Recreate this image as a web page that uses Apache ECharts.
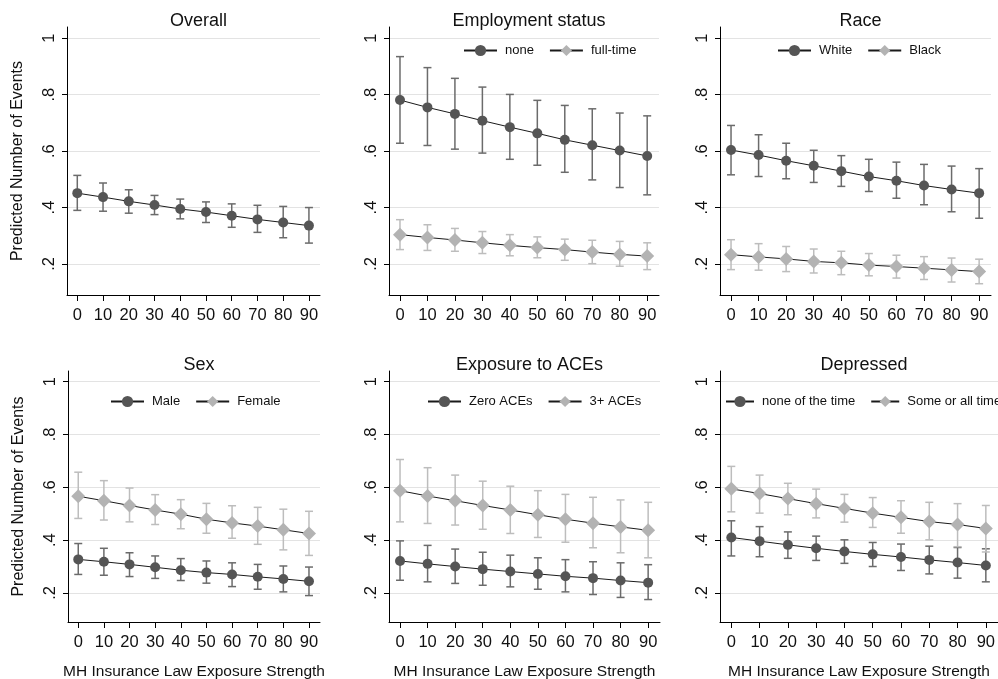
<!DOCTYPE html>
<html lang="en">
<head>
  <meta charset="UTF-8">
  <script type="text/javascript" src="https://cdn.jsdelivr.net/npm/echarts@6.0.0/dist/echarts.min.js"></script>
  <title>Predicted Number of Events</title>
  <style type="text/css">
    * { margin: 0; padding: 0; }
    html, body { width: 100%; height: 100%; background-color: #fff; }
    #chart { width: 998px; height: 679px; }
  </style>
</head>
<body>
<div id="chart"></div>
<script type="text/javascript">
  // x values (exposure strength) and y tick values
  var xValues = [0, 10, 20, 30, 40, 50, 60, 70, 80, 90];
  var yTicks = [0.2, 0.4, 0.6, 0.8, 1];

  // Overall
  var overallEst = [0.451, 0.437, 0.422, 0.409, 0.395, 0.384, 0.371, 0.358, 0.347, 0.336];
  var overallLo  = [0.390, 0.387, 0.380, 0.375, 0.360, 0.347, 0.330, 0.312, 0.293, 0.274];
  var overallHi  = [0.514, 0.487, 0.463, 0.443, 0.430, 0.420, 0.413, 0.408, 0.404, 0.400];

  // Employment status
  var noneEst = [0.781, 0.755, 0.732, 0.708, 0.685, 0.663, 0.640, 0.621, 0.602, 0.583];
  var noneLo  = [0.628, 0.620, 0.607, 0.593, 0.571, 0.550, 0.525, 0.498, 0.471, 0.445];
  var noneHi  = [0.935, 0.896, 0.858, 0.827, 0.801, 0.780, 0.762, 0.750, 0.735, 0.725];
  var fullEst = [0.304, 0.294, 0.285, 0.275, 0.266, 0.258, 0.251, 0.242, 0.234, 0.228];
  var fullLo  = [0.251, 0.248, 0.245, 0.237, 0.229, 0.222, 0.213, 0.201, 0.192, 0.180];
  var fullHi  = [0.357, 0.339, 0.326, 0.315, 0.304, 0.296, 0.288, 0.284, 0.280, 0.275];

  // Race
  var whiteEst = [0.604, 0.586, 0.566, 0.548, 0.529, 0.510, 0.495, 0.478, 0.464, 0.451];
  var whiteLo  = [0.516, 0.510, 0.502, 0.489, 0.475, 0.457, 0.433, 0.410, 0.385, 0.362];
  var whiteHi  = [0.691, 0.658, 0.628, 0.603, 0.584, 0.571, 0.561, 0.553, 0.547, 0.538];
  var blackEst = [0.233, 0.225, 0.218, 0.209, 0.204, 0.196, 0.191, 0.185, 0.179, 0.173];
  var blackLo  = [0.180, 0.178, 0.173, 0.168, 0.162, 0.158, 0.150, 0.145, 0.136, 0.130];
  var blackHi  = [0.286, 0.272, 0.262, 0.253, 0.245, 0.237, 0.231, 0.226, 0.221, 0.217];

  // Sex
  var maleEst   = [0.327, 0.318, 0.308, 0.297, 0.286, 0.277, 0.270, 0.261, 0.253, 0.244];
  var maleLo    = [0.270, 0.267, 0.262, 0.255, 0.247, 0.237, 0.224, 0.214, 0.204, 0.190];
  var maleHi    = [0.387, 0.369, 0.352, 0.340, 0.330, 0.321, 0.314, 0.308, 0.302, 0.298];
  var femaleEst = [0.566, 0.549, 0.531, 0.514, 0.498, 0.479, 0.465, 0.453, 0.439, 0.425];
  var femaleLo  = [0.482, 0.476, 0.469, 0.459, 0.443, 0.426, 0.407, 0.384, 0.363, 0.342];
  var femaleHi  = [0.657, 0.625, 0.597, 0.572, 0.553, 0.539, 0.530, 0.524, 0.517, 0.509];

  // Exposure to ACEs
  var zeroAceEst = [0.321, 0.310, 0.300, 0.290, 0.281, 0.272, 0.263, 0.256, 0.247, 0.239];
  var zeroAceLo  = [0.248, 0.242, 0.236, 0.229, 0.223, 0.214, 0.204, 0.194, 0.183, 0.175];
  var zeroAceHi  = [0.397, 0.380, 0.366, 0.354, 0.343, 0.333, 0.326, 0.318, 0.314, 0.307];
  var threeAceEst = [0.587, 0.567, 0.549, 0.531, 0.514, 0.496, 0.479, 0.464, 0.450, 0.437];
  var threeAceLo  = [0.469, 0.463, 0.457, 0.441, 0.425, 0.410, 0.392, 0.371, 0.352, 0.333];
  var threeAceHi  = [0.705, 0.674, 0.646, 0.623, 0.604, 0.587, 0.573, 0.562, 0.552, 0.543];

  // Depressed
  var depNoneEst = [0.410, 0.396, 0.382, 0.369, 0.357, 0.346, 0.336, 0.325, 0.315, 0.304];
  var depNoneLo  = [0.340, 0.337, 0.331, 0.323, 0.312, 0.300, 0.285, 0.272, 0.256, 0.242];
  var depNoneHi  = [0.473, 0.451, 0.431, 0.415, 0.401, 0.391, 0.385, 0.377, 0.372, 0.367];
  var depSomeEst = [0.594, 0.576, 0.557, 0.538, 0.520, 0.502, 0.486, 0.470, 0.459, 0.444];
  var depSomeLo  = [0.507, 0.502, 0.496, 0.484, 0.468, 0.448, 0.426, 0.401, 0.375, 0.355];
  var depSomeHi  = [0.679, 0.646, 0.615, 0.593, 0.573, 0.561, 0.549, 0.543, 0.538, 0.531];

  var DARK = { marker: '#555555', bar: '#6b6b6b', symbol: 'circle', size: 10 };
  var LIGHT = { marker: '#b3b3b3', bar: '#bdbdbd', symbol: 'diamond', size: 14 };
  var FONT = '"Liberation Sans", Arial, Helvetica, sans-serif';

  // panels: title, groups, plot box and legend position
  var panels = [
    { title: 'Overall', box: [67, 27, 253, 268], yName: true, xName: false,
      groups: [{ name: 'Overall', est: overallEst, lo: overallLo, hi: overallHi, st: DARK }] },
    { title: 'Employment status', box: [389, 27, 270, 268], legend: [463, 44, 33],
      groups: [{ name: 'none', est: noneEst, lo: noneLo, hi: noneHi, st: DARK },
               { name: 'full-time', est: fullEst, lo: fullLo, hi: fullHi, st: LIGHT }] },
    { title: 'Race', box: [720, 27, 271, 268], legend: [777, 44, 33],
      groups: [{ name: 'White', est: whiteEst, lo: whiteLo, hi: whiteHi, st: DARK },
               { name: 'Black', est: blackEst, lo: blackLo, hi: blackHi, st: LIGHT }] },
    { title: 'Sex', box: [68, 371, 252, 251], yName: true, xName: true, legend: [110, 395, 33],
      groups: [{ name: 'Male', est: maleEst, lo: maleLo, hi: maleHi, st: DARK },
               { name: 'Female', est: femaleEst, lo: femaleLo, hi: femaleHi, st: LIGHT }] },
    { title: 'Exposure to ACEs', box: [389, 371, 271, 251], xName: true, legend: [427, 395, 33],
      groups: [{ name: 'Zero ACEs', est: zeroAceEst, lo: zeroAceLo, hi: zeroAceHi, st: DARK },
               { name: '3+ ACEs', est: threeAceEst, lo: threeAceLo, hi: threeAceHi, st: LIGHT }] },
    { title: 'Depressed', box: [720, 371, 278, 251], xName: true, legend: [725, 395, 28],
      groups: [{ name: 'none of the time', est: depNoneEst, lo: depNoneLo, hi: depNoneHi, st: DARK },
               { name: 'Some or all time', est: depSomeEst, lo: depSomeLo, hi: depSomeHi, st: LIGHT }] }
  ];

  function errorBarRenderer(color) {
    return function (params, api) {
      var x = api.value(0);
      var pLo = api.coord([x, api.value(1)]);
      var pHi = api.coord([x, api.value(2)]);
      var hw = 4;
      var style = { stroke: color, lineWidth: 1.5 };
      return {
        type: 'group',
        children: [
          { type: 'line', shape: { x1: pLo[0], y1: pLo[1], x2: pHi[0], y2: pHi[1] }, style: style },
          { type: 'line', shape: { x1: pLo[0] - hw, y1: pLo[1], x2: pLo[0] + hw, y2: pLo[1] }, style: style },
          { type: 'line', shape: { x1: pHi[0] - hw, y1: pHi[1], x2: pHi[0] + hw, y2: pHi[1] }, style: style }
        ]
      };
    };
  }

  var grids = [], xAxes = [], yAxes = [], titles = [], legends = [], series = [];

  panels.forEach(function (p, i) {
    grids.push({ left: p.box[0], top: p.box[1], width: p.box[2], height: p.box[3],
      containLabel: false, outerBoundsMode: 'none' });

    titles.push({
      text: p.title, left: p.box[0] + p.box[2] / 2, top: p.box[1] - 20, textAlign: 'center',
      textStyle: { fontFamily: FONT, fontSize: 18, fontWeight: 'normal', color: '#111' }
    });

    xAxes.push({
      gridIndex: i, type: 'value', min: -4, max: 94.3,
      name: p.xName ? 'MH Insurance Law Exposure Strength' : '',
      nameLocation: 'middle', nameGap: 42,
      nameTextStyle: { fontFamily: FONT, fontSize: 15.5, color: '#111' },
      axisLine: { onZero: false, lineStyle: { color: '#000', width: 1 } },
      axisTick: { customValues: xValues, length: 6, lineStyle: { color: '#000' } },
      axisLabel: { customValues: xValues, margin: 12, fontFamily: FONT, fontSize: 16.5, color: '#111' },
      splitLine: { show: false }
    });

    yAxes.push({
      gridIndex: i, type: 'value', min: 0.09, max: 1.04,
      name: p.yName ? 'Predicted Number of Events' : '',
      nameLocation: 'middle', nameGap: 41,
      nameTextStyle: { fontFamily: FONT, fontSize: 16, color: '#111' },
      axisLine: { show: true, onZero: false, lineStyle: { color: '#000', width: 1 } },
      axisTick: { show: true, customValues: yTicks, length: 5, lineStyle: { color: '#000' } },
      axisLabel: {
        customValues: yTicks, rotate: 90, margin: 9, fontFamily: FONT, fontSize: 16.5, color: '#111',
        formatter: function (v) { return v === 1 ? '1' : String(Math.round(v * 10) / 10).replace(/^0/, ''); }
      },
      splitLine: { show: true, lineStyle: { color: '#e3e3e3', width: 1 } }
    });

    p.groups.forEach(function (g) {
      series.push({
        type: 'custom', xAxisIndex: i, yAxisIndex: i, silent: true, z: 2,
        renderItem: errorBarRenderer(g.st.bar),
        encode: { x: 0, y: [1, 2] },
        data: xValues.map(function (x, k) { return [x, g.lo[k], g.hi[k]]; })
      });
    });
    p.groups.forEach(function (g) {
      series.push({
        name: g.name, type: 'line', xAxisIndex: i, yAxisIndex: i, z: 3,
        symbol: g.st.symbol, symbolSize: g.st.size, showSymbol: true,
        itemStyle: { color: g.st.marker },
        lineStyle: { color: '#1a1a1a', width: 1 },
        animation: false,
        data: xValues.map(function (x, k) { return [x, g.est[k]]; })
      });
    });

    if (p.legend) {
      legends.push({
        left: p.legend[0], top: p.legend[1], width: 400, padding: 0, itemGap: 15,
        itemWidth: p.legend[2], itemHeight: 14,
        data: p.groups.map(function (g) { return g.name; }),
        textStyle: { fontFamily: FONT, fontSize: 13, color: '#111', padding: [0, 0, 0, 3] }
      });
    }
  });

  var myChart = echarts.init(document.getElementById('chart'));
  myChart.setOption({
    backgroundColor: '#fff',
    animation: false,
    title: titles,
    legend: legends,
    grid: grids,
    xAxis: xAxes,
    yAxis: yAxes,
    series: series
  });
</script>
</body>
</html>
